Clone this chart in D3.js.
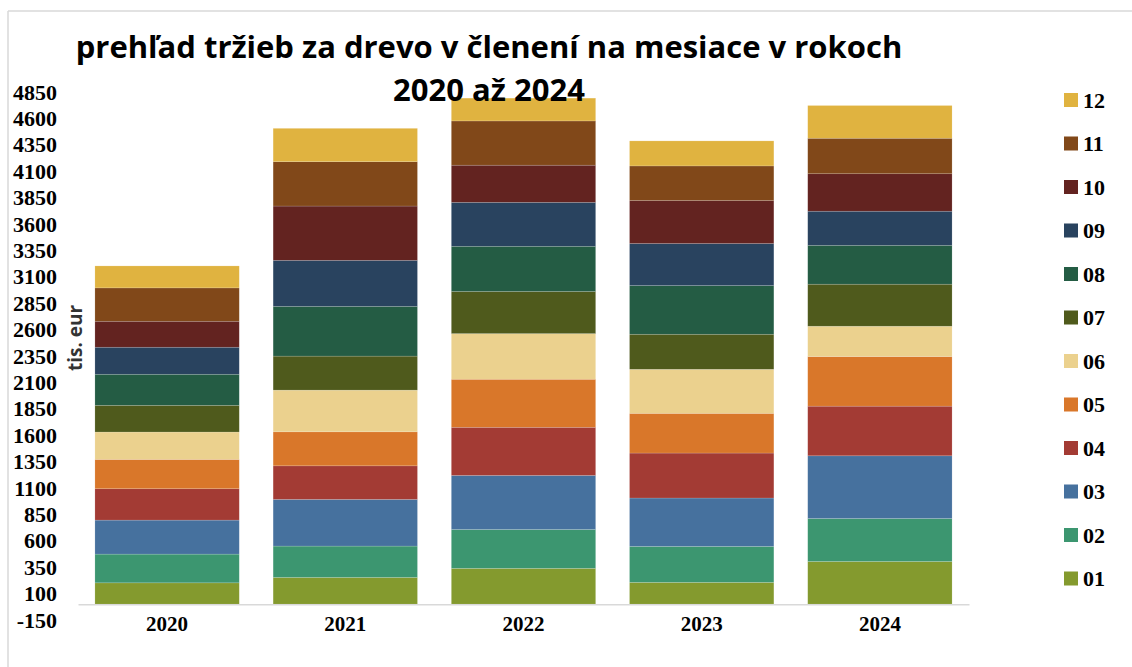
<!DOCTYPE html>
<html lang="sk">
<head>
    <meta charset="UTF-8">
    <script src="https://d3js.org/d3.v7.min.js"></script>
    <title>prehľad tržieb za drevo</title>
    <style>
        body { margin: 0; background: #fff; }
        svg { display: block; }
    </style>
</head>
<body>
    <div id="graph-div"></div>
    <script>
        // data (tis. eur)
        const years = ['2020', '2021', '2022', '2023', '2024'];
        const months = ['01', '02', '03', '04', '05', '06', '07', '08', '09', '10', '11', '12'];
        const m01 = [202, 253, 339, 206, 404];
        const m02 = [272, 297, 368, 341, 407];
        const m03 = [322, 442, 512, 458, 594];
        const m04 = [297, 318, 456, 426, 470];
        const m05 = [278, 322, 455, 376, 470];
        const m06 = [259, 395, 432, 417, 287];
        const m07 = [253, 322, 399, 332, 398];
        const m08 = [294, 471, 428, 461, 368];
        const m09 = [256, 436, 416, 398, 323];
        const m10 = [246, 514, 352, 407, 355];
        const m11 = [316, 420, 419, 328, 336];
        const m12 = [208, 316, 216, 237, 310];
        const colors = ['#849a2e', '#3c9670', '#46719e', '#a33b34', '#d9772a', '#ebd18e',
                        '#4f5a1c', '#245c44', '#29435f', '#632320', '#814819', '#e0b340'];
        const yTicks = [-150, 100, 350, 600, 850, 1100, 1350, 1600, 1850, 2100, 2350, 2600,
                        2850, 3100, 3350, 3600, 3850, 4100, 4350, 4600, 4850];

        const seriesValues = [m01, m02, m03, m04, m05, m06, m07, m08, m09, m10, m11, m12];
        const table = years.map((yr, i) => {
            let row = { year: yr };
            months.forEach((m, j) => row[m] = seriesValues[j][i]);
            return row;
        });

        const w = 1132;
        const h = 667;

        const svg = d3.select('#graph-div')
                      .append('svg')
                      .attr('width', w)
                      .attr('height', h);

        // frame
        svg.append('line')
           .attr('x1', 8).attr('x2', 8).attr('y1', 11).attr('y2', h)
           .attr('stroke', '#d9d9d9').attr('stroke-width', 1.5);
        svg.append('line')
           .attr('x1', 8).attr('x2', w).attr('y1', 11).attr('y2', 11)
           .attr('stroke', '#d9d9d9').attr('stroke-width', 1.5);

        // scales
        const xScale = d3.scaleBand()
                         .domain(years)
                         .range([78, 969])
                         .paddingInner(0.19)
                         .paddingOuter(0.095);
        const yScale = d3.scaleLinear()
                         .domain([-150, 4850])
                         .range([620, 92]);
        const color = d3.scaleOrdinal().domain(months).range(colors);

        const stack = d3.stack().keys(months);
        const stacked = stack(table);

        // bars
        svg.append('g')
           .selectAll('g')
           .data(stacked)
           .enter().append('g')
           .attr('fill', d => color(d.key))
           .selectAll('rect')
           .data(d => d)
           .enter().append('rect')
           .attr('x', d => xScale(d.data.year))
           .attr('width', xScale.bandwidth())
           .attr('y', d => yScale(d[1]))
           .attr('height', d => yScale(d[0]) - yScale(d[1]))
           .attr('stroke', 'rgba(255,255,255,0.25)')
           .attr('stroke-width', 0.6);

        // x axis
        const xAxis = d3.axisBottom(xScale).tickSize(0).tickPadding(12);
        const gx = svg.append('g')
           .attr('id', 'x-axis')
           .attr('transform', 'translate(0,' + yScale(0) + ')')
           .call(xAxis);
        gx.select('.domain').attr('stroke', '#d9d9d9').attr('stroke-width', 1.5);
        gx.selectAll('text')
          .attr('dy', '0.71em')
          .style('font-family', '"Liberation Serif", serif')
          .style('font-weight', 'bold')
          .style('font-size', '21px')
          .attr('fill', '#000');

        // y axis
        const yAxis = d3.axisLeft(yScale)
                        .tickValues(yTicks)
                        .tickFormat(d => String(d))
                        .tickSize(0)
                        .tickPadding(0);
        const gy = svg.append('g')
           .attr('id', 'y-axis')
           .attr('transform', 'translate(57,0)')
           .call(yAxis);
        gy.select('.domain').remove();
        gy.selectAll('text')
          .style('font-family', '"Liberation Serif", serif')
          .style('font-weight', 'bold')
          .style('font-size', '22px')
          .attr('fill', '#000');

        svg.append('text')
           .text('tis. eur')
           .attr('transform', 'translate(82,338) rotate(-90)')
           .attr('text-anchor', 'middle')
           .style('font-family', '"Open Sans", sans-serif')
           .style('font-weight', 'bold')
           .style('font-size', '19px')
           .attr('fill', '#333');

        // title
        const title = svg.append('text')
           .attr('text-anchor', 'middle')
           .style('font-family', '"Open Sans", sans-serif')
           .style('font-weight', 'bold')
           .style('font-size', '31px')
           .attr('fill', '#000');
        title.append('tspan').attr('x', 489).attr('y', 58)
             .text('prehľad tržieb za drevo v členení na mesiace v rokoch');
        title.append('tspan').attr('x', 489).attr('y', 101)
             .text('2020 až 2024');

        // legend
        const legendData = months.slice().reverse();
        const legend = svg.append('g').attr('id', 'legend');
        legend.selectAll('rect')
              .data(legendData)
              .enter().append('rect')
              .attr('x', 1064)
              .attr('y', (d, i) => 93 + i * 43.5)
              .attr('width', 14)
              .attr('height', 14)
              .attr('fill', d => color(d));
        legend.selectAll('text')
              .data(legendData)
              .enter().append('text')
              .text(d => d)
              .attr('x', 1083)
              .attr('y', (d, i) => 100 + i * 43.5)
              .attr('dy', '0.35em')
              .style('font-family', '"Liberation Serif", serif')
              .style('font-weight', 'bold')
              .style('font-size', '22px')
              .attr('fill', '#000');
    </script>
</body>
</html>
